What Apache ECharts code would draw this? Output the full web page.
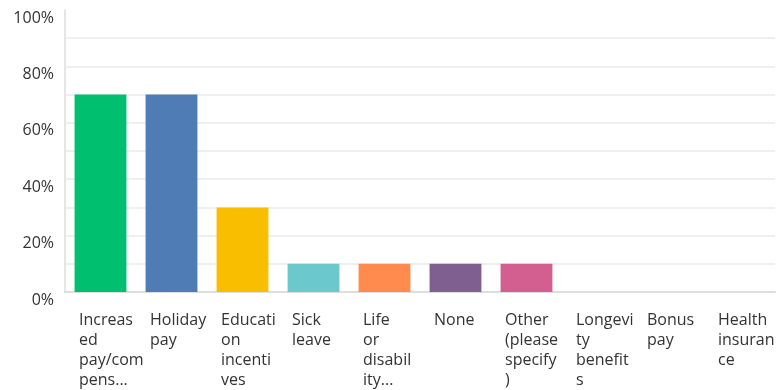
<!DOCTYPE html>
<html>
<head>
<meta charset="utf-8">
<script src="https://cdn.jsdelivr.net/npm/echarts@6/dist/echarts.min.js"></script>
<style>
html,body{margin:0;padding:0;background:#fff;}
#chart{width:778px;height:390px;}
</style>
</head>
<body>
<div id="chart"></div>
<script>
const categories = [
  "Increas\ned\npay/com\npens...",
  "Holiday\npay",
  "Educati\non\nincenti\nves",
  "Sick\nleave",
  "Life\nor\ndisabil\nity...",
  "None",
  "Other\n(please\nspecify\n)",
  "Longevi\nty\nbenefit\ns",
  "Bonus\npay",
  "Health\ninsuran\nce"
];
const values = [70, 70, 30, 10, 10, 10, 10, 0, 0, 0];
const barColors = ["#00BF6F", "#507CB6", "#F9BE00", "#6BC8CD", "#FF8B4F", "#7F5E90", "#D25F90", "#C4B2C9", "#A0D9B5", "#9FB3D6"];
const yTicks = [0, 20, 40, 60, 80, 100];

const chart = echarts.init(document.getElementById('chart'), null, {renderer: 'canvas'});
const gridColors = [];
for (let i = 0; i <= 10; i++) gridColors.push(i === 10 ? 'rgba(0,0,0,0)' : '#efefef');

chart.setOption({
  animation: false,
  grid: {left: 65, right: 3, top: 10, bottom: 98, containLabel: false},
  xAxis: {
    type: 'category',
    data: categories,
    axisLine: {show: true, lineStyle: {color: '#dedede', width: 2}},
    axisTick: {show: false},
    axisLabel: {
      interval: 0,
      hideOverlap: false,
      margin: 18,
      fontFamily: 'Open Sans',
      fontSize: 16,
      lineHeight: 20,
      color: '#333',
      formatter: function (v) {
        return v.split('\n').map(function (s) { return '{a|' + s + '}'; }).join('\n');
      },
      rich: {a: {align: 'left', width: 43, fontFamily: 'Open Sans', fontSize: 16, lineHeight: 20, color: '#333'}}
    }
  },
  yAxis: {
    type: 'value',
    min: 0,
    max: 100,
    interval: 10,
    axisLine: {show: true, lineStyle: {color: '#e6e6e6', width: 2}},
    axisTick: {show: false},
    splitLine: {show: true, lineStyle: {color: gridColors, width: 2}},
    axisLabel: {
      margin: 11,
      fontFamily: 'Open Sans',
      fontSize: 16,
      lineHeight: 16,
      color: '#333',
      verticalAlign: 'top',
      formatter: function (v) { return yTicks.indexOf(v) >= 0 ? v + '%' : ''; }
    }
  },
  series: [{
    type: 'bar',
    data: values.map(function (v, i) { return {value: v, itemStyle: {color: barColors[i]}}; }),
    barCategoryGap: '27%'
  }]
});
</script>
</body>
</html>
